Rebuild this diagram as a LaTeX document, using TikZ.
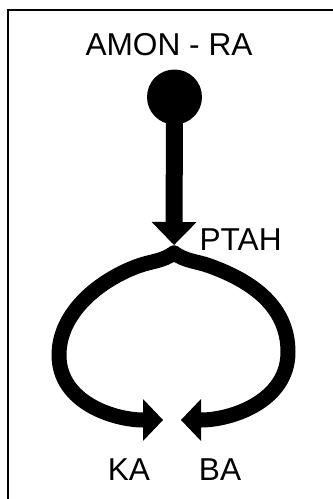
\documentclass[tikz,border=0pt]{standalone}
\usepackage{fontspec}
\setmainfont{Liberation Sans}
\usetikzlibrary{arrows.meta, positioning, calc}
\tikzset{
  godname/.style={font=\fontsize{27}{31}\selectfont, inner sep=0pt, text=black},
  frameline/.style={draw=black, line width=1.6pt},
  source/.style={circle, fill=black, minimum size=1.65cm, inner sep=0pt},
  stem/.style={-{Triangle[length=0.69cm, width=1.35cm, line width=0pt]}, line width=0.51cm},
  branch/.style={-{Triangle[length=0.6cm, width=1.26cm, line width=0pt]},
    line width=0.45cm, line cap=round}
}

\begin{document}
\begin{tikzpicture}
  % Page and frame
  \useasboundingbox (0,0) rectangle (9.99,-14.97);
  \draw[frameline] (0.24,-15.2) |- (10.3,-0.30);

  % Labels
  \node[godname, anchor=base] (amon) at (5.07,-1.65) {AMON - RA};
  \node[godname, anchor=base west] (ptah) at (5.98,-7.5) {PTAH};
  \node[godname, anchor=base] (ka) at (3.87,-14.4) {KA};
  \node[godname, anchor=base] (ba) at (6.6,-14.4) {BA};

  % Source and split point
  \node[source] (sun) at (5.235,-2.91) {};
  \coordinate (split) at (5.22,-7.59);
  \coordinate (katip) at (4.89,-12.6);
  \coordinate (batip) at (5.43,-12.6);

  % Descent
  \draw[stem, shorten >=0.24cm] (sun.center) -- (split);

  % Two branches
  \draw[branch] (split) to[out=215, in=20] (4.14,-7.98)
    to[out=200, in=90, looseness=0.9] (1.77,-10.65) to[out=270, in=180] (katip);
  \draw[branch] (split) to[out=-35, in=160] (6.3,-7.98)
    to[out=-20, in=90] (8.64,-10.56) to[out=270, in=0] (batip);
\end{tikzpicture}
\end{document}
